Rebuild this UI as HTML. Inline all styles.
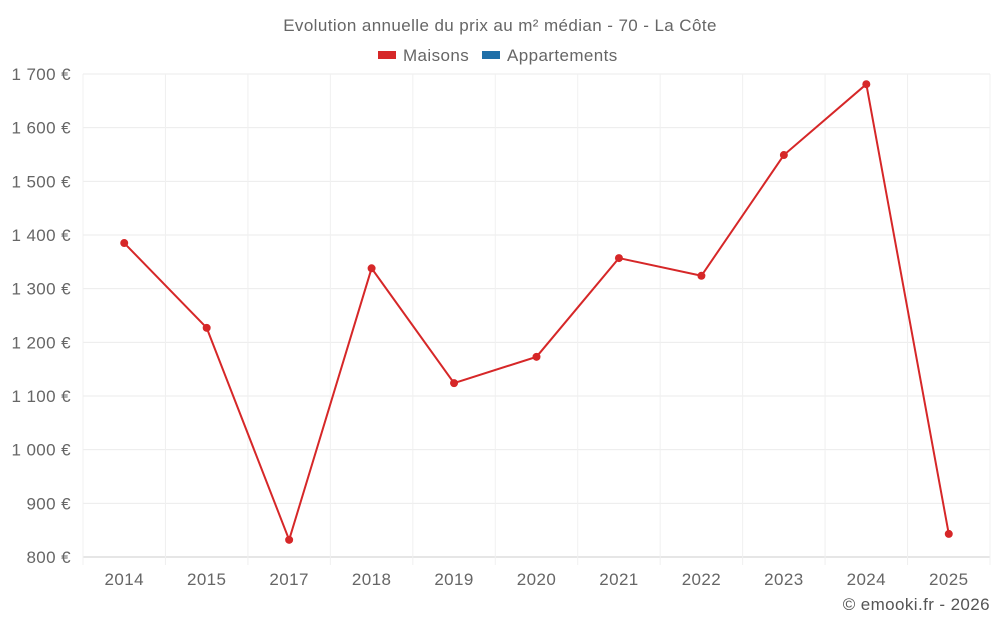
<!DOCTYPE html>
<html><head><meta charset="utf-8"><style>
body{margin:0;background:#fff;font-family:"Liberation Sans",sans-serif;}
svg text{letter-spacing:0.4px;}
</style></head><body>
<svg width="1000" height="625" xmlns="http://www.w3.org/2000/svg">
<text x="500" y="31" text-anchor="middle" font-size="17" fill="#666">Evolution annuelle du prix au m² médian - 70 - La Côte</text>
<g>
<g><rect x="378" y="51" width="18" height="8" fill="#d62728"/><text x="403" y="61" font-size="17" fill="#666">Maisons</text></g>
<g><rect x="482" y="51" width="18" height="8" fill="#1f6fa8"/><text x="507" y="61" font-size="17" fill="#666">Appartements</text></g>
</g>
<g id="grid"></g>
<g id="axes"></g>
<g id="series"></g>
<text x="990" y="610" text-anchor="end" font-size="17" fill="#555">© emooki.fr - 2026</text>
</svg>
<script>
const categories=["2014","2015","2017","2018","2019","2020","2021","2022","2023","2024","2025"];
const maisons=[1385,1227,832,1338,1124,1173,1357,1324,1549,1681,843];
const yTicks=[800,900,1000,1100,1200,1300,1400,1500,1600,1700];
const yTickLabels=["800 €","900 €","1 000 €","1 100 €","1 200 €","1 300 €","1 400 €","1 500 €","1 600 €","1 700 €"];
const L=83,R=990,T=74,B=557,yMin=800,yMax=1700;
const ns="http://www.w3.org/2000/svg";
const bw=(R-L)/categories.length;
function x(i){return L+bw*(i+0.5);}
function y(v){return B-(v-yMin)/(yMax-yMin)*(B-T);}
function mk(tag,attrs,parent){const e=document.createElementNS(ns,tag);for(const k in attrs)e.setAttribute(k,attrs[k]);parent.appendChild(e);return e;}
const grid=document.getElementById('grid'),axes=document.getElementById('axes'),series=document.getElementById('series');
yTicks.forEach((t,i)=>{
 const ln=mk('line',{x1:L,x2:R,y1:y(t),y2:y(t),stroke:i==0?'#ccc':'#ebebeb','stroke-width':1},grid);
 
 
 const tx=mk('text',{x:71,y:y(t)+6,'text-anchor':'end','font-size':17,fill:'#666'},axes);
 tx.textContent=yTickLabels[i];
 
 
});
for(let i=0;i<=categories.length;i++){
 const gx=L+bw*i;
 const ln=mk('line',{x1:gx,x2:gx,y1:T,y2:B+8,stroke:'#f0f0f0','stroke-width':1},grid);
 
 
}
categories.forEach((c,i)=>{
 const tx=mk('text',{x:x(i),y:585,'text-anchor':'middle','font-size':17,fill:'#666'},axes);
 tx.textContent=c;
 
 
});
const pts=maisons.map((v,i)=>x(i)+','+y(v)).join(' ');
const pl=mk('polyline',{points:pts,fill:'none',stroke:'#d62728','stroke-width':2},series);


maisons.forEach((v,i)=>{
 const c=mk('circle',{cx:x(i),cy:y(v),r:4,fill:'#d62728'},series);
 
 
});
</script>
</body></html>
